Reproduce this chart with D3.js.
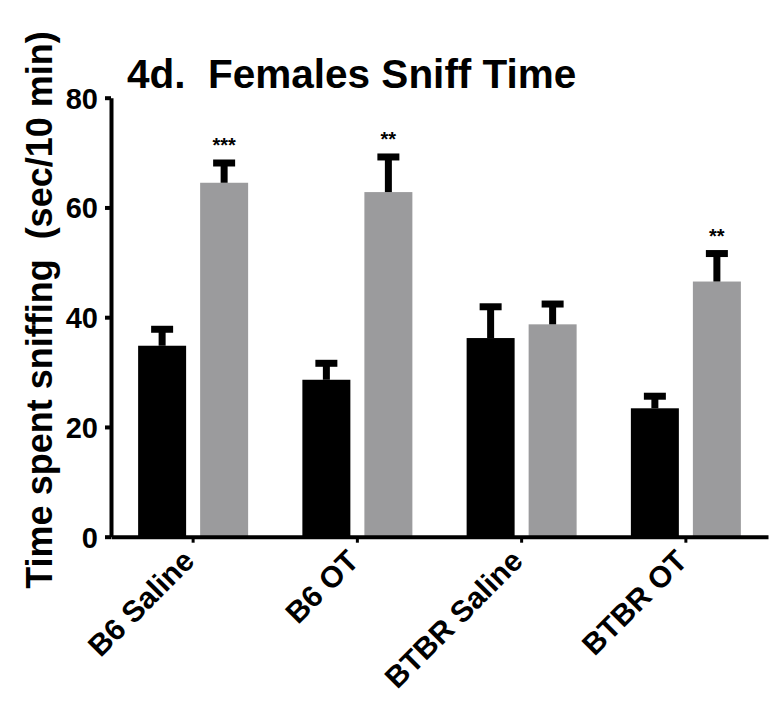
<!DOCTYPE html>
<html>
<head>
<meta charset="utf-8">
<script src="https://cdn.jsdelivr.net/npm/d3@7"></script>
<style>
  html, body { margin: 0; padding: 0; background: #fff; }
  svg { display: block; }
  text { font-family: "Liberation Sans", Arial, Helvetica, sans-serif; font-weight: bold; }
</style>
</head>
<body>
<svg id="chart" width="769" height="707"></svg>
<script>
// Group labels along the x axis
const groups = ["B6 Saline", "B6 OT", "BTBR Saline", "BTBR OT"];
// Sniff time (sec/10 min), first bar of each pair (black)
const blackMeans = [34.8, 28.6, 36.2, 23.4];
const blackSem = [3.0, 3.0, 5.7, 2.2];
// Second bar of each pair (grey)
const grayMeans = [64.5, 62.8, 38.7, 46.5];
const graySem = [3.6, 6.4, 3.7, 5.1];
// Significance marks over the grey bars
const graySig = ["***", "**", "", "**"];
// Y axis ticks
const yTicks = [0, 20, 40, 60, 80];

const series = [
  { key: "black", color: "#000000", means: blackMeans, sem: blackSem, sig: ["", "", "", ""] },
  { key: "gray", color: "#9b9b9d", means: grayMeans, sem: graySem, sig: graySig }
];

const svg = d3.select("#chart");
svg.append("rect").attr("width", 769).attr("height", 707).attr("fill", "#fff");

const x = d3.scaleBand().domain(groups).range([111, 768]).padding(0);
const xSub = d3.scaleBand().domain(series.map(s => s.key)).range([-55, 55]).paddingInner(0.226);
const y = d3.scaleLinear().domain([0, 80]).range([536.7, 97.7]);

const center = g => x(g) + x.bandwidth() / 2;

// Bars
const rows = [];
series.forEach(s => groups.forEach((g, i) => rows.push({ s, g, mean: s.means[i], sem: s.sem[i], sig: s.sig[i] })));

const plot = svg.append("g");
plot.selectAll("rect.bar").data(rows).join("rect")
  .attr("class", "bar")
  .attr("x", d => center(d.g) + xSub(d.s.key))
  .attr("width", xSub.bandwidth())
  .attr("y", d => y(d.mean))
  .attr("height", d => y(0) - y(d.mean))
  .attr("fill", d => d.s.color);

// Error bars (mean + SEM)
const mid = d => center(d.g) + xSub(d.s.key) + xSub.bandwidth() / 2;
const eb = plot.selectAll("g.err").data(rows).join("g").attr("class", "err");
eb.append("line")
  .attr("x1", mid).attr("x2", mid)
  .attr("y1", d => y(d.mean))
  .attr("y2", d => y(d.mean + d.sem))
  .attr("stroke", "#000").attr("stroke-width", 7);
eb.append("line")
  .attr("x1", d => mid(d) - 11)
  .attr("x2", d => mid(d) + 11)
  .attr("y1", d => y(d.mean + d.sem))
  .attr("y2", d => y(d.mean + d.sem))
  .attr("stroke", "#000").attr("stroke-width", 7);

// Significance asterisks
plot.selectAll("text.sig").data(rows.filter(d => d.sig)).join("text")
  .attr("class", "sig")
  .attr("x", mid)
  .attr("y", d => y(d.mean + d.sem) - 11)
  .attr("text-anchor", "middle")
  .attr("font-size", 20)
  .text(d => d.sig);

// Y axis
const yAxis = svg.append("g")
  .attr("transform", "translate(111,0)")
  .call(d3.axisLeft(y).tickValues(yTicks).tickSize(6).tickSizeOuter(0).tickPadding(7));
yAxis.select(".domain").attr("stroke-width", 4);
yAxis.selectAll(".tick line").attr("stroke-width", 4);
yAxis.selectAll(".tick text").attr("font-size", 29).attr("fill", "#000").attr("dy", "0.36em");

// X axis
const xAxis = svg.append("g")
  .attr("transform", `translate(0,${y(0)})`)
  .call(d3.axisBottom(x).tickSize(6).tickSizeOuter(0));
xAxis.select(".domain").attr("stroke-width", 4);
xAxis.selectAll(".tick line").attr("stroke-width", 3);
xAxis.selectAll(".tick text")
  .attr("font-size", 30).attr("fill", "#000")
  .attr("x", 0).attr("y", 0).attr("dy", 0)
  .attr("text-anchor", "end")
  .attr("transform", "translate(3,26) rotate(-45)");

// Y axis title
svg.append("text")
  .attr("transform", "translate(52,310) rotate(-90)")
  .attr("text-anchor", "middle")
  .attr("font-size", 36)
  .style("white-space", "pre")
  .text("Time spent sniffing  (sec/10 min)");

// Chart title
svg.append("text")
  .attr("x", 127).attr("y", 88)
  .attr("font-size", 40.5)
  .style("white-space", "pre")
  .text("4d.  Females Sniff Time");
</script>
</body>
</html>
